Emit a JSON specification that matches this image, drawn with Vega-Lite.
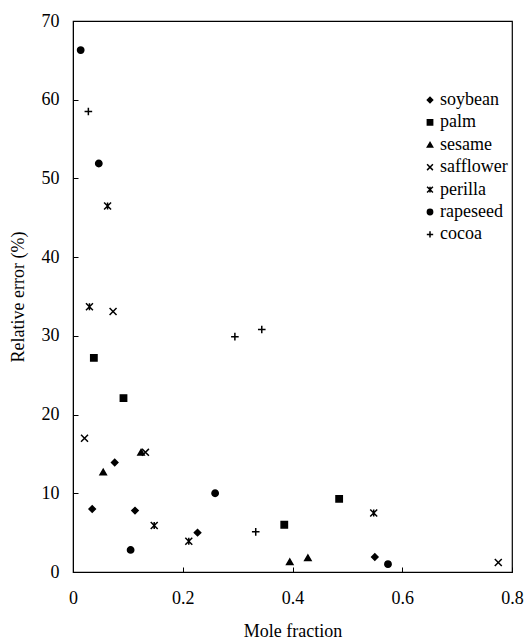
{
  "$schema": "https://vega.github.io/schema/vega-lite/v6.json",
  "autosize": {"type": "none"},
  "padding": {"left": 73, "top": 21, "right": 13, "bottom": 67},
  "width": 439,
  "height": 551,
  "background": "white",
  "config": {
    "view": {"stroke": "black", "strokeWidth": 1.2},
    "font": "Liberation Serif, Times New Roman, serif",
    "axis": {"grid": false, "domainColor": "black", "tickColor": "black", "labelColor": "black", "titleColor": "black", "labelFont": "Liberation Serif, Times New Roman, serif", "titleFont": "Liberation Serif, Times New Roman, serif", "labelFontSize": 18, "titleFontSize": 18, "titleFontWeight": "normal", "tickSize": -5},
    "legend": {"labelFont": "Liberation Serif, Times New Roman, serif"}
  },
  "data": {
    "values": [
      {"oil": "soybean", "x": 0.035, "y": 8.0},
      {"oil": "soybean", "x": 0.076, "y": 13.9},
      {"oil": "soybean", "x": 0.113, "y": 7.8},
      {"oil": "soybean", "x": 0.227, "y": 5.0},
      {"oil": "soybean", "x": 0.550, "y": 1.9},
      {"oil": "palm", "x": 0.038, "y": 27.2},
      {"oil": "palm", "x": 0.092, "y": 22.1},
      {"oil": "palm", "x": 0.385, "y": 6.0},
      {"oil": "palm", "x": 0.485, "y": 9.3},
      {"oil": "sesame", "x": 0.055, "y": 12.7},
      {"oil": "sesame", "x": 0.124, "y": 15.2},
      {"oil": "sesame", "x": 0.395, "y": 1.3},
      {"oil": "sesame", "x": 0.428, "y": 1.8},
      {"oil": "safflower", "x": 0.021, "y": 17.0},
      {"oil": "safflower", "x": 0.073, "y": 33.1},
      {"oil": "safflower", "x": 0.132, "y": 15.2},
      {"oil": "safflower", "x": 0.775, "y": 1.2},
      {"oil": "perilla", "x": 0.030, "y": 33.7},
      {"oil": "perilla", "x": 0.063, "y": 46.5},
      {"oil": "perilla", "x": 0.148, "y": 5.9},
      {"oil": "perilla", "x": 0.211, "y": 3.9},
      {"oil": "perilla", "x": 0.548, "y": 7.5},
      {"oil": "rapeseed", "x": 0.014, "y": 66.3},
      {"oil": "rapeseed", "x": 0.047, "y": 51.9},
      {"oil": "rapeseed", "x": 0.105, "y": 2.8},
      {"oil": "rapeseed", "x": 0.259, "y": 10.0},
      {"oil": "rapeseed", "x": 0.574, "y": 1.0},
      {"oil": "cocoa", "x": 0.028, "y": 58.5},
      {"oil": "cocoa", "x": 0.295, "y": 29.9},
      {"oil": "cocoa", "x": 0.344, "y": 30.8},
      {"oil": "cocoa", "x": 0.333, "y": 5.1}
    ]
  },
  "mark": {"type": "point", "filled": true, "color": "black", "stroke": "black", "strokeWidth": 1.5, "size": 40, "opacity": 1},
  "encoding": {
    "x": {"field": "x", "type": "quantitative", "title": "Mole fraction",
      "scale": {"domain": [0, 0.8], "nice": false, "zero": false},
      "axis": {"values": [0, 0.2, 0.4, 0.6, 0.8], "format": "~g", "labelFont": "Liberation Serif, Times New Roman, serif", "labelFontSize": 18, "labelPadding": 22, "titleY": 50, "labelFlush": false}},
    "y": {"field": "y", "type": "quantitative", "title": "Relative error (%)",
      "scale": {"domain": [0, 70], "nice": false},
      "axis": {"values": [0, 10, 20, 30, 40, 50, 60, 70], "labelFont": "Liberation Serif, Times New Roman, serif", "labelFontSize": 18, "labelPadding": 19, "titleX": -46, "labelFlush": false}},
    "shape": {"field": "oil", "type": "nominal",
      "scale": {
        "domain": ["soybean", "palm", "sesame", "safflower", "perilla", "rapeseed", "cocoa"],
        "range": ["diamond", "square", "triangle-up", "M-1.1,-1.1L1.1,1.1M1.1,-1.1L-1.1,1.1", "M-1.1,-1.1L1.1,1.1M1.1,-1.1L-1.1,1.1M0,-1.1L0,1.1", "circle", "M-1.2,0L1.2,0M0,-1.2L0,1.2"]
      },
      "legend": {"title": null, "orient": "none", "legendX": 348, "legendY": 70, "labelFont": "Liberation Serif, Times New Roman, serif", "labelFontSize": 18, "labelColor": "black", "symbolSize": 28, "rowPadding": 4.4, "labelOffset": 1,
        "encode": {"symbols": {"update": {"fill": {"value": "black"}, "stroke": {"value": "black"}, "strokeWidth": {"value": 1.2}, "opacity": {"value": 1}}}}}
    }
  }
}
